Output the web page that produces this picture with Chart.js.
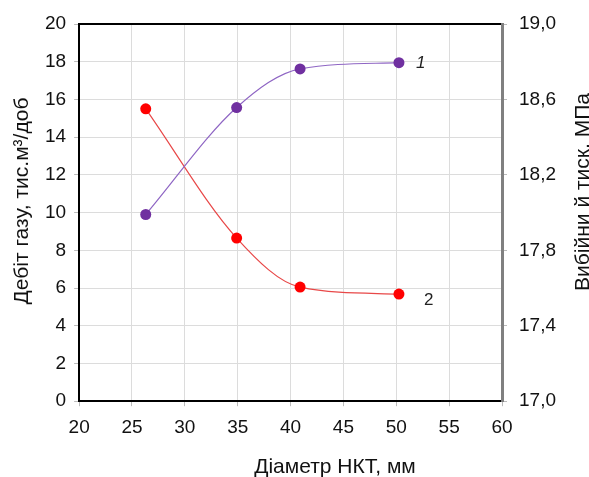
<!DOCTYPE html>
<html>
<head>
<meta charset="utf-8">
<script src="https://cdn.jsdelivr.net/npm/chart.js@4"></script>
<style>
  html, body { margin: 0; padding: 0; background: #fff; }
  #wrap { width: 589px; height: 477px; }
</style>
</head>
<body>
<div id="wrap"><canvas id="grafica"></canvas></div>
<script>
// дані
const diametr = [26.3, 34.9, 40.9, 50.25];
const debit = [9.9, 15.57, 17.62, 17.95];       // крива 1, ліва вісь
const tysk = [18.55, 17.865, 17.605, 17.568];   // крива 2, права вісь
const yLiviTicks = [0, 2, 4, 6, 8, 10, 12, 14, 16, 18, 20];
const yPraviTicks = [17.0, 17.4, 17.8, 18.2, 18.6, 19.0];
const mitky = ['1', '2'];
const nazvaX = 'Діаметр НКТ, мм';
const nazvaLiva = 'Дебіт газу, тис.м³/доб';
const nazvaPrava = 'Вибійни й тиск, МПа';

const shryft = "'Liberation Sans', Arial, sans-serif";

// підписи кривих і назви осей
const pidpysy = {
  id: 'pidpysy',
  afterDraw(chart) {
    const ctx = chart.ctx;
    ctx.save();
    ctx.fillStyle = '#222';
    ctx.textBaseline = 'middle';
    chart.data.datasets.forEach((ds, i) => {
      const meta = chart.getDatasetMeta(i);
      const pt = meta.data[meta.data.length - 1];
      ctx.font = (i === 0 ? "italic " : "") + "17px " + shryft;
      ctx.fillText(mitky[i], pt.x + (i === 0 ? 17 : 25), pt.y + (i === 0 ? 1 : 6));
    });
    ctx.font = "21px " + shryft;
    ctx.fillStyle = '#111';
    ctx.textAlign = 'center';
    ctx.fillText(nazvaX, 335, 467);
    ctx.save();
    ctx.translate(22, 201);
    ctx.rotate(-Math.PI / 2);
    ctx.fillText(nazvaLiva, 0, 0);
    ctx.restore();
    ctx.translate(583, 192);
    ctx.rotate(-Math.PI / 2);
    ctx.fillText(nazvaPrava, 0, 0);
    ctx.restore();
  }
};

const $grafica = document.querySelector('#grafica');
new Chart($grafica, {
  type: 'line',
  data: {
    datasets: [
      {
        label: '1',
        data: diametr.map((x, i) => ({ x: x, y: debit[i] })),
        yAxisID: 'y',
        borderColor: '#8f66c4',
        backgroundColor: '#7030a0',
        borderWidth: 1.2,
        pointRadius: 5.5,
        pointBorderWidth: 0,
        cubicInterpolationMode: 'monotone'
      },
      {
        label: '2',
        data: diametr.map((x, i) => ({ x: x, y: tysk[i] })),
        yAxisID: 'y2',
        borderColor: '#e84848',
        backgroundColor: '#ff0000',
        borderWidth: 1.2,
        pointRadius: 5.5,
        pointBorderWidth: 0,
        cubicInterpolationMode: 'monotone'
      }
    ]
  },
  options: {
    responsive: true,
    maintainAspectRatio: false,
    animation: false,
    layout: { padding: { left: 37, right: 21, top: 16, bottom: 28 } },
    plugins: { legend: { display: false }, tooltip: { enabled: false } },
    scales: {
      x: {
        type: 'linear',
        min: 20, max: 60,
        ticks: { stepSize: 5, color: '#111', font: { size: 19, family: shryft }, padding: 10 },
        grid: { color: '#dcdcdc', tickLength: 5, tickColor: '#bbb' },
        border: { color: '#000', width: 2 }
      },
      xTop: {
        type: 'linear',
        position: 'top',
        min: 20, max: 60,
        ticks: { display: false },
        grid: { display: false },
        border: { color: '#000', width: 2 }
      },
      y: {
        min: 0, max: 20,
        afterBuildTicks: (s) => { s.ticks = yLiviTicks.map(v => ({ value: v })); },
        ticks: { color: '#111', font: { size: 19, family: shryft }, padding: 8 },
        grid: { color: '#dcdcdc', tickLength: 5, tickColor: '#bbb' },
        border: { color: '#000', width: 2 }
      },
      y2: {
        position: 'right',
        min: 17, max: 19,
        afterBuildTicks: (s) => { s.ticks = yPraviTicks.map(v => ({ value: v })); },
        ticks: {
          color: '#111', font: { size: 19, family: shryft }, padding: 12,
          callback: (v) => Number(v).toFixed(1).replace('.', ',')
        },
        grid: { drawOnChartArea: false, tickLength: 5, tickColor: '#bbb' },
        border: { color: '#808080', width: 3 }
      }
    }
  },
  plugins: [pidpysy]
});
</script>
</body>
</html>
